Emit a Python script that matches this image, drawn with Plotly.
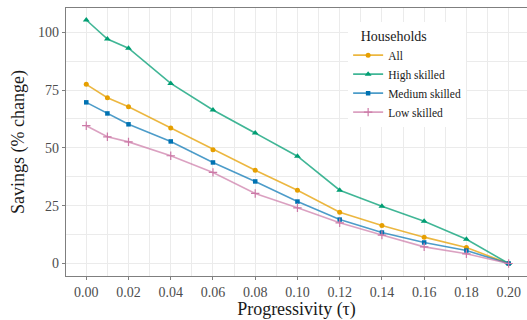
import plotly.graph_objects as go

# Progressivity levels of the tax schedule
tau = [0.00, 0.01, 0.02, 0.04, 0.06, 0.08, 0.10, 0.12, 0.14, 0.16, 0.18, 0.20]

# Savings, % change, by household group
all_hh = [77.5, 71.7, 67.8, 58.6, 49.2, 40.3, 31.7, 22.2, 16.4, 11.4, 6.9, 0.0]
high_skilled = [105.3, 97.1, 93.1, 77.9, 66.4, 56.4, 46.4, 31.7, 24.8, 18.3, 10.5, 0.0]
medium_skilled = [69.7, 64.9, 60.2, 52.8, 43.7, 35.5, 26.8, 19.0, 13.4, 9.1, 5.6, 0.0]
low_skilled = [59.6, 54.8, 52.6, 46.6, 39.4, 30.3, 24.1, 17.6, 12.3, 7.2, 4.2, 0.0]

series = [
    ("All", all_hh, "#E69F00", "rgba(230,159,0,0.75)", "circle", 5),
    ("High skilled", high_skilled, "#009E73", "rgba(0,158,115,0.75)", "triangle-up", 6),
    ("Medium skilled", medium_skilled, "#0072B2", "rgba(0,114,178,0.7)", "square", 4.5),
    ("Low skilled", low_skilled, "#CC79A7", "rgba(204,121,167,0.7)", "cross-thin", 6),
]

FONT = "Times New Roman, Tinos, Liberation Serif, DejaVu Serif, serif"

fig = go.Figure()
for name, vals, mcol, lcol, sym, size in series:
    marker = dict(symbol=sym, size=size, color=mcol)
    if sym == "cross-thin":
        marker["line"] = dict(color=mcol, width=1.2)
    fig.add_trace(go.Scatter(
        x=tau, y=vals, name=name, mode="lines+markers",
        line=dict(color=lcol, width=1.6),
        marker=marker,
    ))

grid = "#EBEBEB"
axis_line = "#7F7F7F"

fig.update_layout(
    width=527, height=320,
    margin=dict(l=66, r=0, t=8, b=44),
    paper_bgcolor="white", plot_bgcolor="white",
    font=dict(family=FONT, color="#1a1a1a"),
    showlegend=True,
    legend=dict(
        x=0.612, y=0.946, xanchor="left", yanchor="top",
        bgcolor="white", borderwidth=0,
        font=dict(family=FONT, size=11.5, color="#1a1a1a"),
        title=dict(text="\u00a0\u00a0\u00a0Households", font=dict(family=FONT, size=14, color="#1a1a1a")),
        itemwidth=30, tracegroupgap=0,
    ),
    xaxis=dict(
        range=[-0.0096, 0.2087],
        tickmode="array",
        tickvals=[0.00, 0.02, 0.04, 0.06, 0.08, 0.10, 0.12, 0.14, 0.16, 0.18, 0.20],
        ticktext=["0.00", "0.02", "0.04", "0.06", "0.08", "0.10", "0.12", "0.14", "0.16", "0.18", "0.20"],
        tickfont=dict(family=FONT, size=14, color="#4D4D4D"),
        ticks="outside", ticklen=3, tickcolor=axis_line,
        showgrid=True, gridcolor=grid, gridwidth=1,
        minor=dict(dtick=0.01, tick0=0.01, showgrid=True, gridcolor=grid, gridwidth=1),
        showline=True, linecolor=axis_line, linewidth=1.3, mirror=True,
        zeroline=False,
        title=dict(text="Progressivity (τ)", font=dict(family=FONT, size=18, color="#1a1a1a"), standoff=7),
    ),
    yaxis=dict(
        range=[-5.4, 110.5],
        tickvals=[0, 25, 50, 75, 100],
        tickfont=dict(family=FONT, size=14, color="#4D4D4D"),
        ticks="outside", ticklen=3, tickcolor=axis_line,
        showgrid=True, gridcolor=grid, gridwidth=1,
        minor=dict(dtick=12.5, tick0=0, showgrid=True, gridcolor=grid, gridwidth=1),
        showline=True, linecolor=axis_line, linewidth=1.3, mirror=True,
        zeroline=False,
        title=dict(text="Savings (% change)", font=dict(family=FONT, size=18, color="#1a1a1a"), standoff=8),
    ),
)

fig.write_html("out.html")
